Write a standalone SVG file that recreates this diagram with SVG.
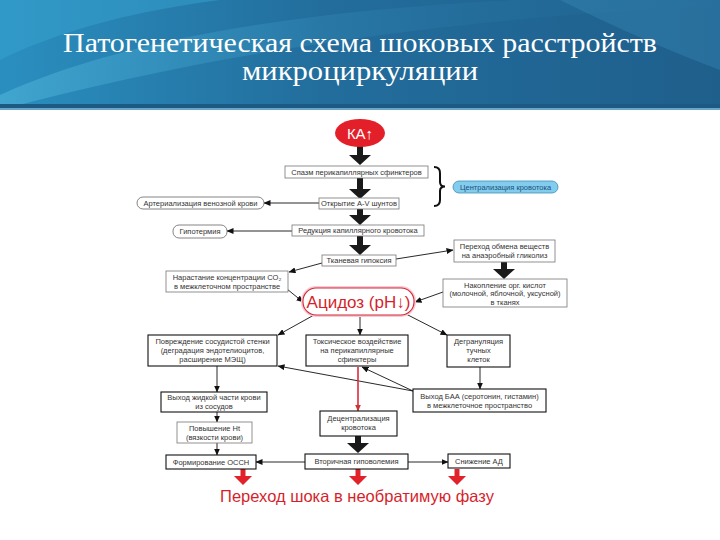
<svg xmlns="http://www.w3.org/2000/svg" width="720" height="540" viewBox="0 0 720 540">
<defs>
<linearGradient id="hdr" x1="0" y1="0" x2="1" y2="0">
<stop offset="0" stop-color="#2a8fbf"/>
<stop offset="0.45" stop-color="#226d9c"/>
<stop offset="1" stop-color="#1f5f8c"/>
</linearGradient>
<linearGradient id="sw" x1="0" y1="0" x2="1" y2="0">
<stop offset="0" stop-color="#5fc4e6" stop-opacity="0.7"/>
<stop offset="0.6" stop-color="#3a9bc8" stop-opacity="0.2"/>
<stop offset="1" stop-color="#3a9bc8" stop-opacity="0"/>
</linearGradient>
<marker id="ah" markerUnits="userSpaceOnUse" markerWidth="7" markerHeight="6" refX="6.5" refY="3" orient="auto">
<path d="M0,0 L7,3 L0,6 Z" fill="#111"/>
</marker>
<marker id="ahr" markerUnits="userSpaceOnUse" markerWidth="7" markerHeight="6" refX="6.5" refY="3" orient="auto">
<path d="M0,0 L7,3 L0,6 Z" fill="#c33"/>
</marker>
<style>
.t{font-family:"Liberation Sans",Arial,sans-serif;font-size:7.5px;fill:#333;text-anchor:middle}
.lb{fill:#fff;stroke:#777;stroke-width:0.8}
.db{fill:#fff;stroke:#111;stroke-width:1.1}
.pill{fill:#fff;stroke:#666;stroke-width:0.8}
.c{fill:none;stroke:#111;stroke-width:0.9;marker-end:url(#ah)}
.big{fill:#1a1a1a}
.red{fill:#e2222a}
</style>
</defs>

<g id="header">
<rect x="0" y="0" width="720" height="110" fill="url(#hdr)"/>
<path d="M0,95 C120,40 300,10 520,0 L720,0 L720,6 C520,14 260,40 0,110 Z" fill="url(#sw)" opacity="0.6"/>
<path d="M0,60 C60,30 140,10 220,0 L0,0 Z" fill="#3aa6d2" opacity="0.45"/>
<path d="M560,0 C620,30 680,55 720,70 L720,0 Z" fill="#3b8fbd" opacity="0.35"/>
<rect x="0" y="104" width="720" height="4" fill="#1c5a84"/>
<rect x="0" y="108" width="720" height="2" fill="#6aa6c8"/>
<text x="360" y="52" font-family="Liberation Serif, Times New Roman, serif" font-size="27" fill="#fff" text-anchor="middle" textLength="594" lengthAdjust="spacingAndGlyphs">Патогенетическая схема шоковых расстройств</text>
<text x="360" y="80" font-family="Liberation Serif, Times New Roman, serif" font-size="27" fill="#fff" text-anchor="middle" textLength="236" lengthAdjust="spacingAndGlyphs">микроциркуляции</text>
</g>

<g id="connectors">
<path class="c" d="M319,203 H264"/>
<path class="c" d="M292,231 H227"/>
<path class="c" d="M396,259 L453,250"/>
<path class="c" d="M322,263 L289,272"/>
<path class="c" d="M287,289 L303,302"/>
<path class="c" d="M443,292 L415,302"/>
<path class="c" d="M314,315 L278,335"/>
<path class="c" d="M360,315 V335"/>
<path class="c" d="M406,314 L447,335"/>
<path class="c" d="M217,366 V392"/>
<path class="c" d="M480,367 V389"/>
<path class="c" d="M413,391 L278,366"/>
<path class="c" d="M413,391 L362,367"/>
<path d="M358,367 V411" fill="none" stroke="#e0283a" stroke-width="1.6" marker-end="url(#ahr)"/>
<path class="c" d="M217,412 V422"/>
<path class="c" d="M217,443 V455"/>
<path class="c" d="M305,462 H256"/>
<path class="c" d="M408,462 H448"/>
<path class="big" d="M357,142 H363 V155 H371 L360,165 L349,155 H357 Z"/>
<path class="big" d="M357,178 H363 V189 H371 L360,199 L349,189 H357 Z"/>
<path class="big" d="M357,209 H363 V215 H371 L360,225 L349,215 H357 Z"/>
<path class="big" d="M357,236 H363 V245 H371 L360,255 L349,245 H357 Z"/>
<path class="big" d="M501,262 H507 V269 H515 L504,279 L493,269 H501 Z"/>
<path class="big" d="M355,436 H361 V443 H369 L358,453 L347,443 H355 Z"/>
<path class="red" d="M240.5,469 H245.5 V476 H252 L243,485 L234,476 H240.5 Z"/>
<path class="red" d="M355.5,469 H360.5 V476 H367 L358,485 L349,476 H355.5 Z"/>
<path class="red" d="M454.5,469 H459.5 V476 H466 L457,485 L448,476 H454.5 Z"/>
<path d="M434,167 Q440,167 440,173 V182 Q440,186.5 445,186.5 Q440,186.5 440,191 V200 Q440,206 434,206" fill="none" stroke="#111" stroke-width="2"/>
</g>

<g id="ka">
<ellipse cx="360" cy="133" rx="25" ry="14" fill="#e3202a"/>
<text x="360" y="139" font-family="Liberation Sans,Arial,sans-serif" font-size="15" fill="#fff" text-anchor="middle">КА↑</text>
</g>
<g id="spasm"><rect class="lb" x="285" y="166" width="143" height="12"/><text class="t" x="356.5" y="174.7">Спазм перикапиллярных сфинктеров</text></g>
<g id="shunts"><rect class="lb" x="319" y="198" width="80" height="11"/><text class="t" x="359" y="206.2">Открытие A-V шунтов</text></g>
<g id="arterial"><rect class="pill" x="137" y="197" width="127" height="12" rx="6"/><text class="t" x="200.5" y="205.7">Артериализация венозной крови</text></g>
<g id="central"><rect x="453" y="181" width="105" height="12" rx="6" fill="#82cdee" stroke="#3f8db8" stroke-width="0.8"/><text class="t" x="505.5" y="189.7" style="fill:#1d4f78">Централизация кровотока</text></g>
<g id="reduction"><rect class="lb" x="292" y="225" width="132" height="11"/><text class="t" x="358" y="233.2">Редукция капиллярного кровотока</text></g>
<g id="hypothermia"><rect class="pill" x="173" y="225" width="54" height="13" rx="6"/><text class="t" x="200" y="234.2">Гипотермия</text></g>
<g id="hypoxia"><rect class="lb" x="322" y="255" width="74" height="11"/><text class="t" x="359" y="263.2">Тканевая гипоксия</text></g>
<g id="anaerobic"><rect class="lb" x="454" y="240" width="101" height="22"/><text class="t" x="504.5" y="249">Переход обмена веществ</text><text class="t" x="504.5" y="258">на анаэробный гликолиз</text></g>
<g id="co2"><rect class="lb" x="166" y="271" width="122" height="21"/><text class="t" x="227" y="280">Нарастание концентрации CO₂</text><text class="t" x="227" y="289">в межклеточном пространстве</text></g>
<g id="acids"><rect class="lb" x="443" y="279" width="124" height="28"/><text class="t" x="505" y="287.5">Накопление орг. кислот</text><text class="t" x="505" y="296">(молочной, яблочной, уксусной)</text><text class="t" x="505" y="304.5">в тканях</text></g>
<g id="acidosis">
<rect x="303" y="288" width="111" height="27" rx="13" fill="#fff" stroke="#f7c9d3" stroke-width="4"/>
<rect x="303" y="288" width="111" height="27" rx="13" fill="#fff" stroke="#d42838" stroke-width="1.1"/>
<text x="358.5" y="308" font-family="Liberation Sans,Arial,sans-serif" font-size="17" fill="#d61f2c" text-anchor="middle">Ацидоз (pH↓)</text>
</g>
<g id="wall"><rect class="db" x="148" y="335" width="129" height="31"/><text class="t" x="212.5" y="344">Повреждение сосудистой стенки</text><text class="t" x="212.5" y="353">(деградация эндотелиоцитов,</text><text class="t" x="212.5" y="362">расширение МЭЩ)</text></g>
<g id="toxic"><rect class="db" x="306" y="335" width="102" height="31"/><text class="t" x="357" y="344">Токсическое воздействие</text><text class="t" x="357" y="353">на перикапиллярные</text><text class="t" x="357" y="362">сфинктеры</text></g>
<g id="degran"><rect class="db" x="447" y="335" width="63" height="32"/><text class="t" x="478.5" y="344">Дегрануляция</text><text class="t" x="478.5" y="353">тучных</text><text class="t" x="478.5" y="362">клеток</text></g>
<g id="fluid"><rect class="db" x="161" y="392" width="106" height="20"/><text class="t" x="214" y="400">Выход жидкой части крови</text><text class="t" x="214" y="409">из сосудов</text></g>
<g id="baa"><rect class="db" x="413" y="389" width="133" height="23"/><text class="t" x="479.5" y="398.5">Выход БАА (серотонин, гистамин)</text><text class="t" x="479.5" y="407.5">в межклеточное пространство</text></g>
<g id="decentral"><rect class="db" x="320" y="411" width="77" height="25"/><text class="t" x="358.5" y="421">Децентрализация</text><text class="t" x="358.5" y="430">кровотока</text></g>
<g id="ht"><rect class="lb" x="177" y="422" width="75" height="21"/><text class="t" x="214.5" y="430.5">Повышение Ht</text><text class="t" x="214.5" y="439.5">(вязкости крови)</text></g>
<g id="ossn"><rect class="db" x="166" y="455" width="90" height="14"/><text class="t" x="211" y="464.7">Формирование ОССН</text></g>
<g id="hypovolemia"><rect class="db" x="305" y="454" width="103" height="15"/><text class="t" x="356.5" y="464.2">Вторичная гиповолемия</text></g>
<g id="bp"><rect class="db" x="448" y="454" width="62" height="14"/><text class="t" x="479" y="463.7">Снижение АД</text></g>
<g id="final"><text x="357" y="502" font-family="Liberation Sans,Arial,sans-serif" font-size="16.5" fill="#d61f2c" text-anchor="middle">Переход шока в необратимую фазу</text></g>
</svg>
